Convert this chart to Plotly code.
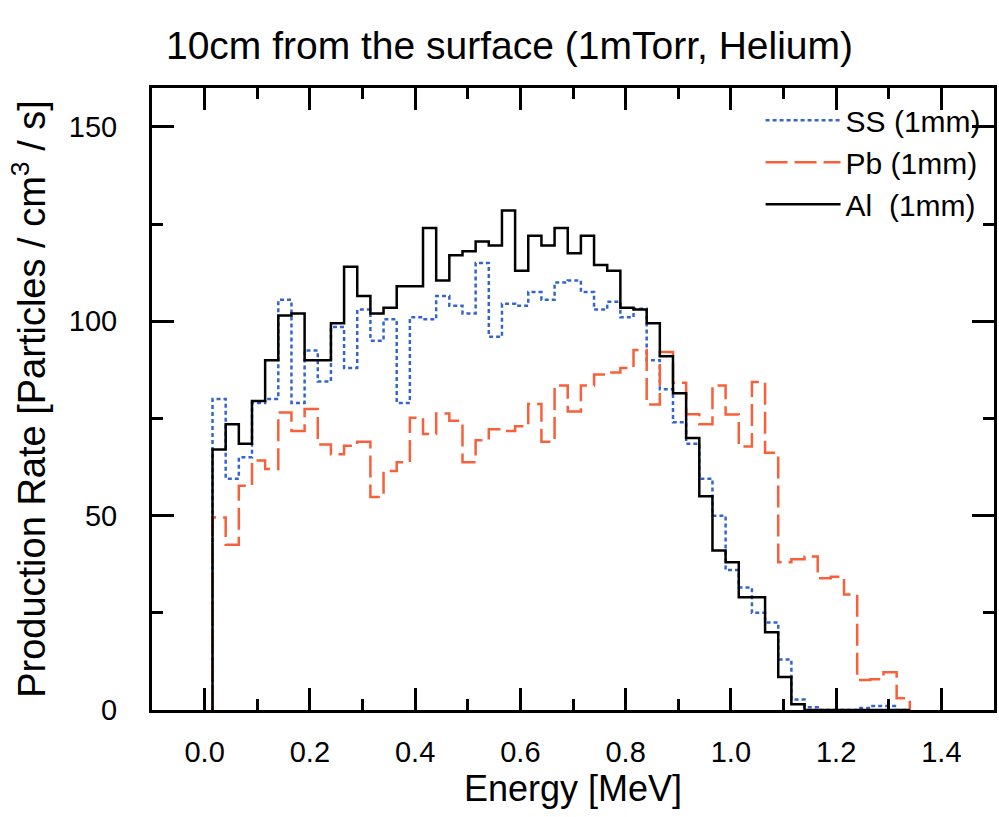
import plotly.graph_objects as go

# Energy bins (MeV): left edge of the first bin and bin width
bin_start = 0.015
bin_width = 0.025
n_edges = 54
edges = [round(bin_start + bin_width * i, 4) for i in range(n_edges)]

# Production rate per bin [Particles / cm^3 / s]
ss_1mm = [80, 59.5, 65, 79, 80, 105.5, 79, 92.5, 84.5, 98.5, 88, 103, 95, 100.5, 79,
          101, 100.5, 106.5, 104, 102, 115, 96, 104.5, 104, 107.5, 105.5, 110, 110.5,
          107.5, 103, 105, 101, 103.2, 90, 82.5, 74, 68.5, 59.5, 50, 36, 31.5, 25, 22.5,
          13, 2.7, 0.7, 0, 0, 0, 0.5, 1, 1, 0]
pb_1mm = [49.5, 42.5, 57.7, 64.2, 62, 76.5, 71.8, 77.4, 68.3, 65.8, 68, 69, 54.8, 61.5,
          63.7, 75.2, 71, 76.3, 74.4, 63.7, 69.4, 72.2, 71.8, 73, 78.7, 69, 83.5, 76.8,
          83.5, 86.3, 86.8, 88, 92.6, 78.6, 92.1, 84.2, 76.1, 73.5, 83.5, 76, 67.8, 84.4,
          66.2, 38, 38.8, 39.5, 33.9, 34.3, 29.7, 7.7, 7.9, 9.7, 3]
al_1mm = [67, 73.5, 68.5, 79.5, 90, 101.5, 102, 90, 90, 99.5, 114, 106.5, 102, 103.5,
          109, 109, 124, 110.5, 117, 118, 120.5, 119.5, 128.5, 113, 122, 119.5, 124,
          117.5, 122, 114.5, 113, 103.5, 103, 99.5, 91, 81.5, 70, 55, 41, 38, 29, 29,
          20, 8.5, 1.5, 0, 0, 0, 0, 0, 0, 0, 0]

x_ticks = [0.0, 0.2, 0.4, 0.6, 0.8, 1.0, 1.2, 1.4]
y_ticks = [0, 50, 100, 150]

series = [
    ("SS (1mm)", ss_1mm, "#3565cc", "4px,3px"),
    ("Pb (1mm)", pb_1mm, "#f8603a", "22px,7px"),
    ("Al\u00a0 (1mm)", al_1mm, "#000000", "solid"),
]


def step_xy(vals):
    n = len(vals)
    xs = [edges[0]] + edges[:n] + [edges[n]]
    ys = [0] + list(vals) + [0]
    return xs, ys


FONT = "Liberation Sans, Arial, sans-serif"
fig = go.Figure()
for name, vals, color, dash in series:
    xs, ys = step_xy(vals)
    fig.add_trace(go.Scatter(
        x=xs, y=ys, mode="lines", name=name,
        line=dict(color=color, width=2.5, dash=dash, shape="hv"),
    ))

axis_common = dict(
    showgrid=False, zeroline=False,
    showline=True, linewidth=3, linecolor="black", mirror="allticks",
    ticks="inside", ticklen=22, tickwidth=3, tickcolor="black",
    tickfont=dict(family=FONT, size=29, color="black"),
)

fig.update_xaxes(
    range=[-0.1, 1.5], tickvals=x_ticks, ticktext=[f"{v:.1f}" for v in x_ticks],
    minor=dict(dtick=0.1, tick0=0, ticks="inside", ticklen=11, tickwidth=3, tickcolor="black"),
    title=dict(text="Energy [MeV]", font=dict(family=FONT, size=36, color="black"), standoff=10),
    ticklabelstandoff=14,
    **axis_common,
)
fig.update_yaxes(
    range=[0, 160], tickvals=y_ticks,
    minor=dict(dtick=25, tick0=0, ticks="inside", ticklen=11, tickwidth=3, tickcolor="black"),
    title=dict(text="Production Rate [Particles / cm<sup>3</sup> / s]",
               font=dict(family=FONT, size=38, color="black"), standoff=12),
    ticklabelstandoff=26,
    **axis_common,
)

fig.update_layout(
    width=999, height=817,
    margin=dict(l=152, r=2, t=88, b=107),
    paper_bgcolor="white", plot_bgcolor="white",
    title=dict(text="10cm from the surface (1mTorr, Helium)", x=0.51, xanchor="center",
               xref="container", y=0.945, yanchor="middle", yref="container",
               font=dict(family=FONT, size=39, color="black")),
    legend=dict(x=0.99, xanchor="right", y=0.99, yanchor="top",
                bgcolor="rgba(0,0,0,0)", font=dict(family=FONT, size=30, color="black"),
                itemwidth=75),
    showlegend=True,
)

fig.write_html("out.html")
